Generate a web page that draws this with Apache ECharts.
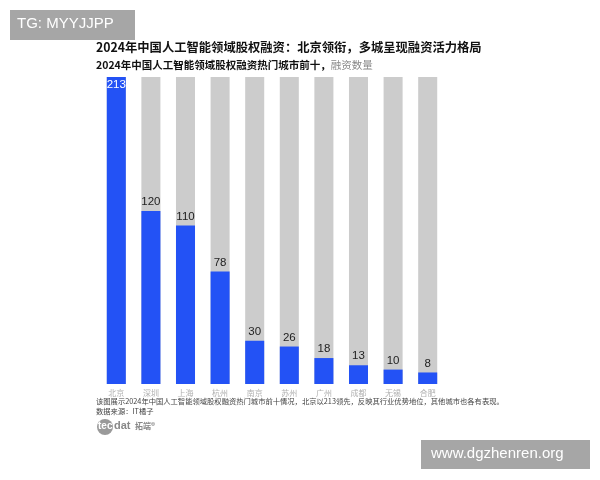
<!DOCTYPE html>
<html><head><meta charset="utf-8">
<script src="https://cdn.jsdelivr.net/npm/echarts@6/dist/echarts.min.js"></script>
<style>html,body{margin:0;padding:0;background:#fff}#c{width:600px;height:480px}</style>
</head><body><div id="c"></div>
<script>
const cities = ['北京','深圳','上海','杭州','南京','苏州','广州','成都','无锡','合肥'];
const counts = [213,120,110,78,30,26,18,13,10,8];
const titleText = '2024年中国人工智能领域股权融资：北京领衔，多城呈现融资活力格局';
const subtitleBold = '2024年中国人工智能领域股权融资热门城市前十，';
const subtitleLight = '融资数量';
const captionText = '该图展示2024年中国人工智能领域股权融资热门城市前十情况，北京以213领先，反映其行业优势地位，其他城市也各有表现。';
const sourceText = '数据来源：IT橘子';

const maxVal = Math.max(...counts);
const bg = counts.map(() => maxVal);
const cjk = '"Noto Sans CJK SC", sans-serif';
const num = 'Arial, "Liberation Sans", sans-serif';

const barData = counts.map((v, i) => v === maxVal
  ? {value: v, label: {position: 'insideTop', distance: 2, color: '#fff'}}
  : v);

const chart = echarts.init(document.getElementById('c'));
chart.setOption({
  animation: false,
  grid: {left: 99, right: 155, top: 77, bottom: 96},
  xAxis: {
    type: 'category', data: cities,
    axisLine: {show: false}, axisTick: {show: false},
    axisLabel: {color: '#b0b0b0', fontSize: 8, fontFamily: cjk, margin: 5}
  },
  yAxis: {type: 'value', min: 0, max: maxVal, show: false, splitLine: {show: false}},
  series: [
    {type: 'bar', data: bg, barWidth: '55%', barGap: '-100%', silent: true,
     itemStyle: {color: '#cccccc'}, z: 1},
    {type: 'bar', data: barData, barWidth: '55%', z: 2,
     itemStyle: {color: '#2352f5'},
     label: {show: true, position: 'top', distance: 3, color: '#222', fontSize: 11.5, fontFamily: num}
    }
  ],
  graphic: [
    {type: 'rect', shape: {x: 10, y: 10, width: 125, height: 30}, style: {fill: '#a6a6a6'}},
    {type: 'text', left: 17, top: 16, style: {text: 'TG: MYYJJPP', fill: '#fff', font: '15px "Liberation Sans", Arial, sans-serif'}},
    {type: 'text', left: 96, top: 41, style: {text: titleText, fill: '#111', font: 'bold 12.3px ' + cjk}},
    {type: 'text', left: 96, top: 60, style: {
      rich: {b: {fill: '#111', font: 'bold 10.5px ' + cjk}, l: {fill: '#888', font: '10.5px ' + cjk}},
      text: '{b|' + subtitleBold + '}{l|' + subtitleLight + '}'}},
    {type: 'text', left: 96, top: 398, style: {text: captionText, fill: '#444', font: '7.3px ' + cjk}},
    {type: 'text', left: 96, top: 408, style: {text: sourceText, fill: '#444', font: '7.3px ' + cjk}},
    {type: 'circle', shape: {cx: 105, cy: 427, r: 8}, style: {fill: '#9a9a9a'}},
    {type: 'text', left: 98, top: 421, style: {text: 'tec', fill: '#fff', font: 'bold 10px "Liberation Sans", sans-serif'}},
    {type: 'text', left: 114, top: 420, style: {text: 'dat', fill: '#888', font: 'bold 11px "Liberation Sans", sans-serif'}},
    {type: 'text', left: 135, top: 422, style: {text: '拓端®', fill: '#888', font: 'bold 8px ' + cjk}},
    {type: 'rect', shape: {x: 421, y: 440, width: 169, height: 29}, style: {fill: '#a6a6a6'}},
    {type: 'text', left: 431, top: 446, style: {text: 'www.dgzhenren.org', fill: '#fff', font: '15px "Liberation Sans", Arial, sans-serif'}}
  ]
});
</script></body></html>
